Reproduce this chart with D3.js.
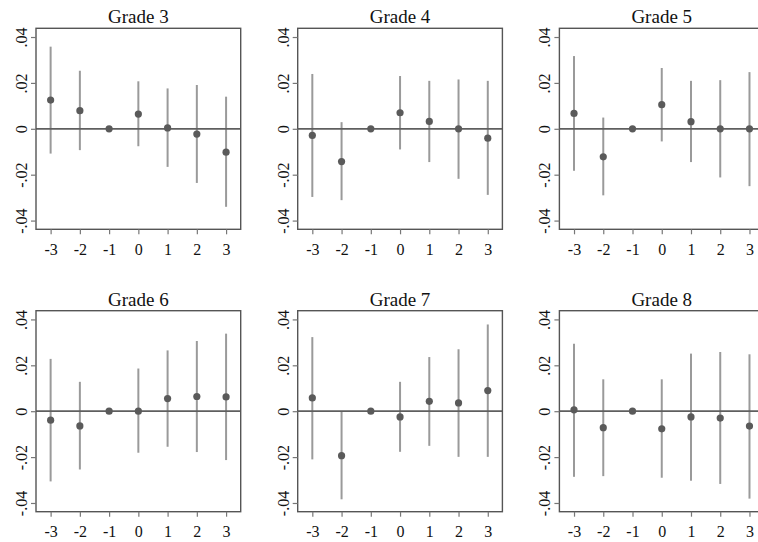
<!DOCTYPE html>
<html><head><meta charset="utf-8">
<script src="https://cdn.jsdelivr.net/npm/d3@7"></script>
<style>body{margin:0;background:#fff}svg{display:block}</style>
</head><body><svg id="c" width="758" height="542"></svg>
<script>
// ---- data ----
const periods = [-3, -2, -1, 0, 1, 2, 3];
const grades = ["Grade 3", "Grade 4", "Grade 5", "Grade 6", "Grade 7", "Grade 8"];
const yTicks = [-0.04, -0.02, 0, 0.02, 0.04];
const yTickLabels = ["-.04", "-.02", "0", ".02", ".04"];
const xTickLabels = ["-3", "-2", "-1", "0", "1", "2", "3"];

const g3Coef = [0.0125, 0.0079, 0, 0.0064, 0.0004, -0.0023, -0.0102];
const g3Lo   = [-0.0108, -0.0093, null, -0.0076, -0.0166, -0.0236, -0.0340];
const g3Hi   = [0.0358, 0.0253, null, 0.0207, 0.0176, 0.0191, 0.0140];

const g4Coef = [-0.0029, -0.0143, 0, 0.0070, 0.0032, 0.0000, -0.0041];
const g4Lo   = [-0.0297, -0.0311, null, -0.0090, -0.0145, -0.0218, -0.0288];
const g4Hi   = [0.0239, 0.0029, null, 0.0230, 0.0209, 0.0215, 0.0209];

const g5Coef = [0.0067, -0.0122, 0, 0.0105, 0.0031, 0.0000, 0.0000];
const g5Lo   = [-0.0183, -0.0290, null, -0.0055, -0.0145, -0.0212, -0.0250];
const g5Hi   = [0.0317, 0.0049, null, 0.0265, 0.0209, 0.0212, 0.0247];

const g6Coef = [-0.0039, -0.0064, 0, 0.0000, 0.0055, 0.0064, 0.0062];
const g6Lo   = [-0.0306, -0.0254, null, -0.0181, -0.0155, -0.0178, -0.0213];
const g6Hi   = [0.0228, 0.0128, null, 0.0186, 0.0265, 0.0306, 0.0338];

const g7Coef = [0.0058, -0.0194, 0, -0.0025, 0.0043, 0.0036, 0.0090];
const g7Lo   = [-0.0210, -0.0384, null, -0.0177, -0.0151, -0.0199, -0.0199];
const g7Hi   = [0.0323, -0.0002, null, 0.0128, 0.0236, 0.0270, 0.0378];

const g8Coef = [0.0006, -0.0072, 0, -0.0077, -0.0025, -0.0030, -0.0065];
const g8Lo   = [-0.0286, -0.0283, null, -0.0290, -0.0303, -0.0317, -0.0381];
const g8Hi   = [0.0294, 0.0139, null, 0.0139, 0.0251, 0.0258, 0.0248];

const coefs = [g3Coef, g4Coef, g5Coef, g6Coef, g7Coef, g8Coef];
const lows  = [g3Lo, g4Lo, g5Lo, g6Lo, g7Lo, g8Lo];
const highs = [g3Hi, g4Hi, g5Hi, g6Hi, g7Hi, g8Hi];

// ---- layout ----
const panelW = 204.7, panelH = 201;
const left0 = 36, top0 = 28.3, dx = 261.7, dy = 282.4;
const frameColor = "#555", barColor = "#9a9a9a", dotColor = "#5a5a5a";
const font = "'Liberation Serif','Times New Roman',serif";

const svg = d3.select("#c");
svg.append("rect").attr("width", 758).attr("height", 542).attr("fill", "#fff");

grades.forEach((g, i) => {
  const col = i % 3, row = Math.floor(i / 3);
  const px = left0 + col * dx, py = top0 + row * dy;
  const x = d3.scaleLinear().domain([-3.5, 3.5]).range([0, panelW]);
  const y = d3.scaleLinear().domain([-0.0438, 0.0438]).range([panelH, 0]);
  const p = svg.append("g").attr("transform", `translate(${px},${py})`);

  const data = periods.map((t, k) => ({t, c: coefs[i][k], lo: lows[i][k], hi: highs[i][k]}));

  // error bars
  p.selectAll("line.ci").data(data.filter(d => d.lo !== null)).join("line")
    .attr("class", "ci")
    .attr("x1", d => x(d.t)).attr("x2", d => x(d.t))
    .attr("y1", d => y(d.lo)).attr("y2", d => y(d.hi))
    .attr("stroke", barColor).attr("stroke-width", 2);

  // zero line
  p.append("line").attr("x1", 0).attr("x2", panelW)
    .attr("y1", y(0)).attr("y2", y(0))
    .attr("stroke", "#5f5f5f").attr("stroke-width", 1.8);

  // points
  p.selectAll("circle").data(data).join("circle")
    .attr("cx", d => x(d.t)).attr("cy", d => y(d.c)).attr("r", 3.6)
    .attr("fill", dotColor);

  // frame
  p.append("rect").attr("x", 0).attr("y", 0).attr("width", panelW).attr("height", panelH)
    .attr("fill", "none").attr("stroke", frameColor).attr("stroke-width", 1.4);

  // y axis
  const ya = p.append("g").call(
    d3.axisLeft(y).tickValues(yTicks).tickSize(5).tickFormat((d, k) => yTickLabels[k]));
  ya.select(".domain").remove();
  ya.selectAll(".tick line").attr("stroke", "#777").attr("stroke-width", 1.2);
  ya.selectAll(".tick text")
    .attr("transform", "rotate(-90)").attr("x", 0).attr("y", -9).attr("dy", 0)
    .attr("text-anchor", "middle")
    .style("font-family", font).style("font-size", "16px").attr("fill", "#111");

  // x axis
  const xa = p.append("g").attr("transform", `translate(0,${panelH})`).call(
    d3.axisBottom(x).tickValues(periods).tickSize(5).tickPadding(9)
      .tickFormat((d, k) => xTickLabels[k]));
  xa.select(".domain").remove();
  xa.selectAll(".tick line").attr("stroke", "#777").attr("stroke-width", 1.2);
  xa.selectAll(".tick text")
    .style("font-family", font).style("font-size", "16px").attr("fill", "#111");

  // title
  p.append("text").attr("x", panelW / 2).attr("y", -5)
    .attr("text-anchor", "middle")
    .style("font-family", font).style("font-size", "19px").attr("fill", "#111")
    .text(g);
});
</script>
</body></html>
